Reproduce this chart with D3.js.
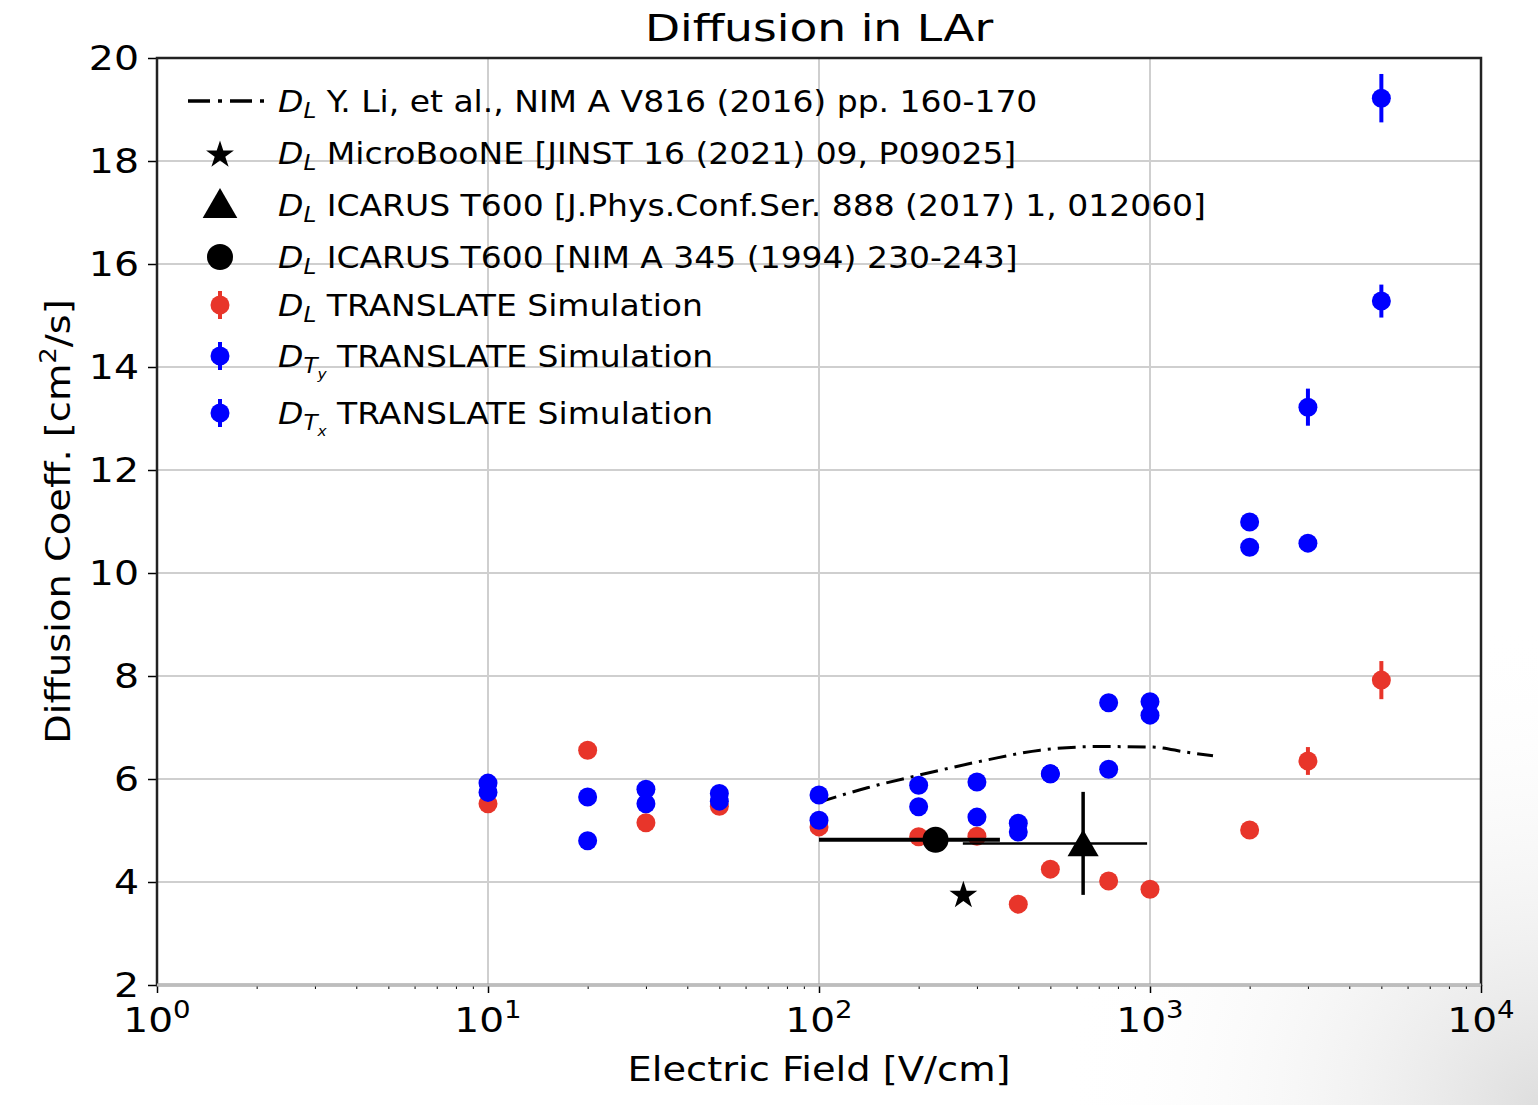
<!DOCTYPE html>
<html>
<head>
<meta charset="utf-8">
<script src="https://cdn.jsdelivr.net/npm/d3@7"></script>
<style>
  html, body { margin: 0; padding: 0; background: #fff; }
  svg { display: block; font-family: "DejaVu Sans", sans-serif; }
</style>
</head>
<body>
<svg id="chart" width="1538" height="1105"></svg>
<script>
// Electric field values (V/cm) for the TRANSLATE simulation runs
const fields = [10, 20, 30, 50, 100, 200, 300, 400, 500, 750, 1000, 2000, 3000, 5000];

// Longitudinal diffusion D_L, TRANSLATE simulation (cm^2/s) and its errors
const dlSim    = [5.52, 6.56, 5.15, 5.47, 5.07, 4.88, 4.89, 3.57, 4.25, 4.02, 3.86, 5.01, 6.35, 7.92];
const dlSimErr = [0.05, 0.05, 0.05, 0.05, 0.05, 0.05, 0.05, 0.05, 0.08, 0.08, 0.08, 0.15, 0.27, 0.37];

// Transverse diffusion, first TRANSLATE set
const dtySim    = [5.92, 5.65, 5.80, 5.72, 5.69, 5.88, 5.94, 5.14, 6.10, 7.48, 7.50, 10.99, 10.58, 19.22];
const dtySimErr = [0.05, 0.05, 0.05, 0.05, 0.05, 0.05, 0.05, 0.05, 0.05, 0.06, 0.06, 0.10, 0.12, 0.47];

// Transverse diffusion, second TRANSLATE set
const dtxSim    = [5.74, 4.80, 5.52, 5.57, 5.20, 5.46, 5.26, 4.97, 6.10, 6.19, 7.24, 10.50, 13.22, 15.28];
const dtxSimErr = [0.05, 0.05, 0.05, 0.05, 0.05, 0.05, 0.05, 0.05, 0.05, 0.06, 0.06, 0.10, 0.36, 0.32];

// D_L parametrisation curve, Y. Li et al.
const liField = [100, 140, 202, 322, 466, 706, 1021, 1290, 1550];
const liDL    = [5.55, 5.83, 6.08, 6.37, 6.56, 6.63, 6.62, 6.52, 6.45];

// Measurements
const microboone = { field: 273, dl: 3.74 };
const icarus2017 = { field: 628, dl: 4.75, fieldLo: 272, fieldHi: 980, dlLo: 3.75, dlHi: 5.75 };
const icarus1994 = { field: 225, dl: 4.82, fieldLo: 100, fieldHi: 352 };

// Axis ticks
const xTickExps = [0, 1, 2, 3, 4];
const yTicks = [2, 4, 6, 8, 10, 12, 14, 16, 18, 20];

const legendLabels = [
  { sub: "L", text: "Y. Li, et al., NIM A V816 (2016) pp. 160-170" },
  { sub: "L", text: "MicroBooNE [JINST 16 (2021) 09, P09025]" },
  { sub: "L", text: "ICARUS T600 [J.Phys.Conf.Ser. 888 (2017) 1, 012060]" },
  { sub: "L", text: "ICARUS T600 [NIM A 345 (1994) 230-243]" },
  { sub: "L", text: "TRANSLATE Simulation" },
  { sub: "T", subsub: "y", text: "TRANSLATE Simulation" },
  { sub: "T", subsub: "x", text: "TRANSLATE Simulation" }
];

const RED = "#e8352a";
const BLUE = "#0000ff";

const svg = d3.select("#chart");
const W = 1538, H = 1105;
const m = { left: 157, right: 1481, top: 58, bottom: 985 };

// wide text: glyphs drawn slightly expanded horizontally
function wideText(parent, px, py, sx, rotate) {
  const tr = `translate(${px},${py})` + (rotate ? ` rotate(${rotate})` : "") + ` scale(${sx},1)`;
  return parent.append("text").attr("transform", tr).attr("fill", "#000");
}

// soft shading in the lower right corner
const defs = svg.append("defs");
const rg = defs.append("radialGradient").attr("id", "corner")
  .attr("gradientUnits", "userSpaceOnUse")
  .attr("cx", W).attr("cy", H).attr("r", 480);
rg.append("stop").attr("offset", "0%").attr("stop-color", "#c8c8c8").attr("stop-opacity", 0.6);
rg.append("stop").attr("offset", "100%").attr("stop-color", "#ffffff").attr("stop-opacity", 0);
svg.append("rect").attr("width", W).attr("height", H).attr("fill", "#fff");
svg.append("rect").attr("width", W).attr("height", H).attr("fill", "url(#corner)");

const x = d3.scaleLog().domain([1, 1e4]).range([m.left, m.right]);
const y = d3.scaleLinear().domain([2, 20]).range([m.bottom, m.top]);

// plot background
svg.append("rect").attr("x", m.left).attr("y", m.top)
  .attr("width", m.right - m.left).attr("height", m.bottom - m.top).attr("fill", "#fff");

// grid
const grid = svg.append("g").attr("stroke", "#cfcfcf").attr("stroke-width", 2);
xTickExps.forEach(e => {
  grid.append("line").attr("x1", x(10 ** e)).attr("x2", x(10 ** e))
    .attr("y1", m.top).attr("y2", m.bottom);
});
yTicks.forEach(v => {
  grid.append("line").attr("x1", m.left).attr("x2", m.right)
    .attr("y1", y(v)).attr("y2", y(v));
});

// x axis with decade labels and minor ticks
const minor = [];
for (let e = 0; e < 4; e++) for (let k = 2; k <= 9; k++) minor.push(k * 10 ** e);
const xAxis = d3.axisBottom(x).tickValues(xTickExps.map(e => 10 ** e)).tickFormat("").tickSize(8);
const gx = svg.append("g").attr("transform", `translate(0,${m.bottom})`).call(xAxis);
gx.select(".domain").remove();
gx.selectAll(".tick line").attr("stroke", "#000").attr("stroke-width", 1.5);
const gxm = svg.append("g").attr("transform", `translate(0,${m.bottom})`)
  .call(d3.axisBottom(x).tickValues(minor).tickFormat("").tickSize(4));
gxm.select(".domain").remove();
gxm.selectAll(".tick line").attr("stroke", "#000").attr("stroke-width", 1);

xTickExps.forEach(e => {
  const t = wideText(svg, x(10 ** e), 1032, 1.15).attr("text-anchor", "middle").attr("font-size", 34);
  t.append("tspan").text("10");
  t.append("tspan").attr("font-size", 24).attr("dy", -14).text(e);
});

// y axis
const yAxis = d3.axisLeft(y).tickValues(yTicks).tickFormat(d3.format("d")).tickSize(9).tickPadding(9);
const gy = svg.append("g").attr("transform", `translate(${m.left},0)`).call(yAxis);
gy.select(".domain").remove();
gy.selectAll(".tick line").attr("stroke", "#000").attr("stroke-width", 1.5);
gy.selectAll(".tick text").attr("font-size", 34).attr("fill", "#000")
  .attr("font-family", "DejaVu Sans, sans-serif").attr("dy", "0.35em")
  .attr("x", 0).attr("transform", "translate(-18,0) scale(1.16,1)");

// frame
svg.append("rect").attr("x", m.left).attr("y", m.top)
  .attr("width", m.right - m.left).attr("height", m.bottom - m.top)
  .attr("fill", "none").attr("stroke", "#222").attr("stroke-width", 2.5);
svg.append("line").attr("x1", m.left).attr("x2", m.right).attr("y1", m.bottom).attr("y2", m.bottom)
  .attr("stroke", "#bdbdbd").attr("stroke-width", 3);

// titles
wideText(svg, (m.left + m.right) / 2, 41, 1.2).attr("text-anchor", "middle")
  .attr("font-size", 38).text("Diffusion in LAr");
wideText(svg, (m.left + m.right) / 2, 1081, 1.13).attr("text-anchor", "middle")
  .attr("font-size", 34).text("Electric Field [V/cm]");
const yl = wideText(svg, 70, (m.top + m.bottom) / 2, 1.13, -90)
  .attr("text-anchor", "middle").attr("font-size", 34);
yl.append("tspan").text("Diffusion Coeff. [cm");
yl.append("tspan").attr("font-size", 23).attr("dy", -14).text("2");
yl.append("tspan").attr("dy", 14).text("/s]");

const plot = svg.append("g");

// Li et al. curve
const line = d3.line().x((d, i) => x(liField[i])).y(d => y(d)).curve(d3.curveMonotoneX);
plot.append("path").datum(liDL).attr("d", line).attr("fill", "none")
  .attr("stroke", "#000").attr("stroke-width", 3).attr("stroke-dasharray", "18 7 3 7");

// simulation series with vertical error bars
function series(vals, errs, color) {
  const g = plot.append("g");
  fields.forEach((f, i) => {
    g.append("line").attr("x1", x(f)).attr("x2", x(f))
      .attr("y1", y(vals[i] - errs[i])).attr("y2", y(vals[i] + errs[i]))
      .attr("stroke", color).attr("stroke-width", 4);
    g.append("circle").attr("cx", x(f)).attr("cy", y(vals[i])).attr("r", 9.5).attr("fill", color);
  });
}
series(dlSim, dlSimErr, RED);
series(dtySim, dtySimErr, BLUE);
series(dtxSim, dtxSimErr, BLUE);

// ICARUS 1994
plot.append("line").attr("x1", x(icarus1994.fieldLo)).attr("x2", x(icarus1994.fieldHi))
  .attr("y1", y(icarus1994.dl)).attr("y2", y(icarus1994.dl))
  .attr("stroke", "#000").attr("stroke-width", 4);
plot.append("circle").attr("cx", x(icarus1994.field)).attr("cy", y(icarus1994.dl))
  .attr("r", 13).attr("fill", "#000");

// ICARUS 2017
plot.append("line").attr("x1", x(icarus2017.fieldLo)).attr("x2", x(icarus2017.fieldHi))
  .attr("y1", y(icarus2017.dl)).attr("y2", y(icarus2017.dl))
  .attr("stroke", "#000").attr("stroke-width", 2.5);
plot.append("line").attr("x1", x(icarus2017.field)).attr("x2", x(icarus2017.field))
  .attr("y1", y(icarus2017.dlLo)).attr("y2", y(icarus2017.dlHi))
  .attr("stroke", "#000").attr("stroke-width", 3.5);
const tri = d3.symbol().type(d3.symbolTriangle).size(420);
plot.append("path").attr("d", tri())
  .attr("transform", `translate(${x(icarus2017.field)},${y(icarus2017.dl) + 4})`).attr("fill", "#000");

// MicroBooNE
const star = d3.symbol().type(d3.symbolStar).size(240);
plot.append("path").attr("d", star())
  .attr("transform", `translate(${x(microboone.field)},${y(microboone.dl)})`).attr("fill", "#000");

// legend
const lg = svg.append("g");
const rows = [101, 153, 205, 257, 305, 356, 413];
const hx = 220, tx = 278;
lg.append("line").attr("x1", 188).attr("x2", 268).attr("y1", rows[0]).attr("y2", rows[0])
  .attr("stroke", "#000").attr("stroke-width", 3.5).attr("stroke-dasharray", "22 8 4 8");
lg.append("path").attr("d", star()).attr("transform", `translate(${hx},${rows[1] + 2})`).attr("fill", "#000");
lg.append("path").attr("d", d3.symbol().type(d3.symbolTriangle).size(520)())
  .attr("transform", `translate(${hx},${rows[2] + 3})`).attr("fill", "#000");
lg.append("circle").attr("cx", hx).attr("cy", rows[3]).attr("r", 13).attr("fill", "#000");
[[rows[4], RED], [rows[5], BLUE], [rows[6], BLUE]].forEach(([ry, c]) => {
  lg.append("line").attr("x1", hx).attr("x2", hx).attr("y1", ry - 14).attr("y2", ry + 14)
    .attr("stroke", c).attr("stroke-width", 4);
  lg.append("circle").attr("cx", hx).attr("cy", ry).attr("r", 9.5).attr("fill", c);
});
legendLabels.forEach((l, i) => {
  const t = wideText(lg, tx, rows[i] + 11, 1.1).attr("font-size", 30);
  t.append("tspan").attr("font-style", "italic").text("D");
  t.append("tspan").attr("font-style", "italic").attr("font-size", 21).attr("dy", 6).text(l.sub);
  if (l.subsub) {
    t.append("tspan").attr("font-style", "italic").attr("font-size", 14).attr("dy", 6).text(l.subsub);
    t.append("tspan").attr("dy", -12).text(" " + l.text);
  } else {
    t.append("tspan").attr("dy", -6).text(" " + l.text);
  }
});
</script>
</body>
</html>
